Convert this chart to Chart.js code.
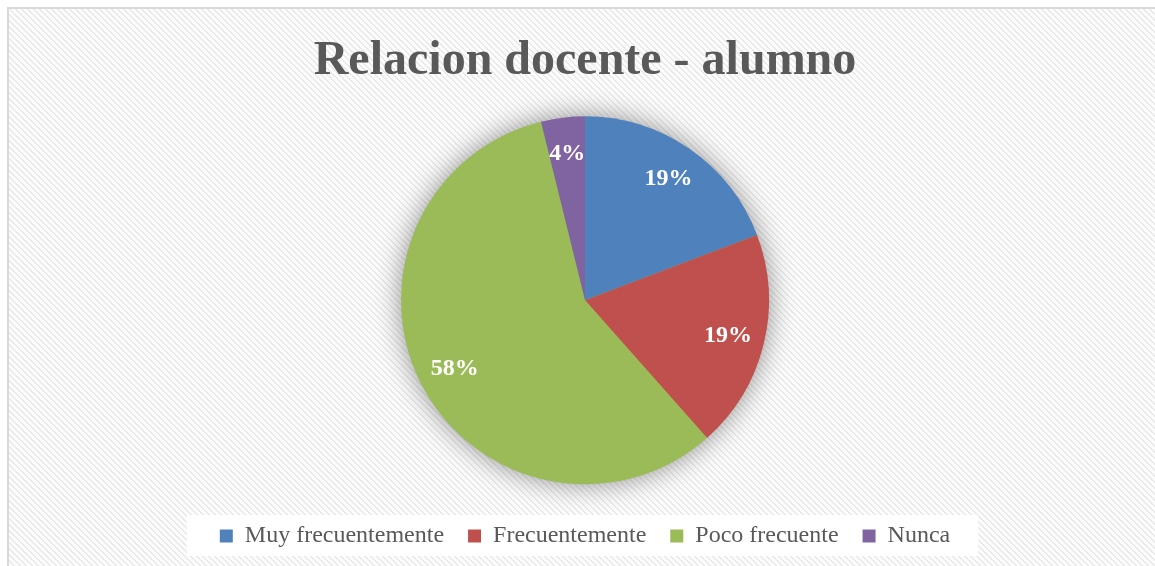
<!DOCTYPE html>
<html>
<head>
<meta charset="utf-8">
<script src="https://cdn.jsdelivr.net/npm/chart.js@4/dist/chart.umd.min.js"></script>
<style>
  html, body { margin: 0; padding: 0; background: #fff; }
  #wrap {
    position: absolute; left: 7px; top: 7px;
    width: 1148px; height: 559px;
    border-top: 2px solid #d9d9d9; border-left: 2px solid #d9d9d9;
  }
</style>
</head>
<body>
<div id="wrap"><canvas id="chart"></canvas></div>
<script>
// data (26 answers)
const categories = ['Muy frecuentemente', 'Frecuentemente', 'Poco frecuente', 'Nunca'];
const answers = [5, 5, 15, 1];
const sliceColors = ['#4F81BD', '#C0504D', '#9BBB59', '#8064A2'];
const chartTitle = 'Relacion docente - alumno';

const serif = "'Liberation Serif', 'Times New Roman', serif";

// diagonal stripe texture of the chart area
function makePattern(ctx) {
  const t = document.createElement('canvas');
  t.width = 6; t.height = 6;
  const c = t.getContext('2d');
  c.fillStyle = '#fcfcfc';
  c.fillRect(0, 0, 6, 6);
  c.fillStyle = '#e9e9e9';
  for (let i = 0; i < 6; i++) {
    c.fillRect(i, i, 1, 1);
    c.fillRect((i + 1) % 6, i, 1, 1);
  }
  return ctx.createPattern(t, 'repeat');
}

const backdrop = {
  id: 'backdrop',
  beforeDraw(chart) {
    const ctx = chart.ctx;
    ctx.save();
    ctx.fillStyle = makePattern(ctx);
    ctx.fillRect(0, 0, chart.width, chart.height);
    // white box behind the legend items
    const boxes = chart.legend.legendHitBoxes;
    if (boxes && boxes.length) {
      const first = boxes[0], last = boxes[boxes.length - 1];
      const cy = first.top + first.height / 2;
      ctx.fillStyle = '#ffffff';
      ctx.fillRect(first.left - 33, cy - 21, last.left + last.width - first.left + 61, 41);
    }
    ctx.restore();
  },
  beforeDatasetsDraw(chart) {
    const arc = chart.getDatasetMeta(0).data[0];
    if (!arc) return;
    const ctx = chart.ctx;
    ctx.save();
    ctx.shadowColor = 'rgba(0,0,0,0.45)';
    ctx.shadowBlur = 28;
    ctx.fillStyle = '#9BBB59';
    ctx.beginPath();
    ctx.arc(arc.x, arc.y, arc.outerRadius - 1, 0, Math.PI * 2);
    ctx.fill();
    ctx.restore();
  }
};

const sliceLabels = {
  id: 'sliceLabels',
  afterDatasetsDraw(chart) {
    const ctx = chart.ctx;
    const data = chart.data.datasets[0].data;
    const total = data.reduce((a, b) => a + b, 0);
    ctx.save();
    ctx.fillStyle = '#ffffff';
    ctx.font = 'bold 24px ' + serif;
    ctx.textAlign = 'center';
    ctx.textBaseline = 'middle';
    chart.getDatasetMeta(0).data.forEach((arc, i) => {
      const mid = (arc.startAngle + arc.endAngle) / 2;
      const r = arc.outerRadius * 0.8;
      const txt = Math.round(data[i] / total * 100) + '%';
      ctx.fillText(txt, arc.x + Math.cos(mid) * r, arc.y + Math.sin(mid) * r);
    });
    ctx.restore();
  }
};

const ctx = document.getElementById('chart').getContext('2d');
const myChart = new Chart(ctx, {
  type: 'pie',
  data: {
    labels: categories,
    datasets: [{
      data: answers,
      backgroundColor: sliceColors,
      borderWidth: 0,
      radius: 184
    }]
  },
  options: {
    responsive: true,
    maintainAspectRatio: false,
    animation: false,
    layout: { padding: { left: 4, right: 0, top: 0, bottom: 10 } },
    plugins: {
      title: {
        display: true,
        text: chartTitle,
        color: '#595959',
        font: { family: serif, size: 48, weight: 'bold' },
        padding: { top: 24, bottom: 10 }
      },
      legend: {
        position: 'bottom',
        labels: {
          color: '#595959',
          font: { family: serif, size: 24 },
          boxWidth: 13,
          boxHeight: 13,
          padding: 24
        }
      },
      tooltip: { enabled: false }
    }
  },
  plugins: [backdrop, sliceLabels]
});
</script>
</body>
</html>
